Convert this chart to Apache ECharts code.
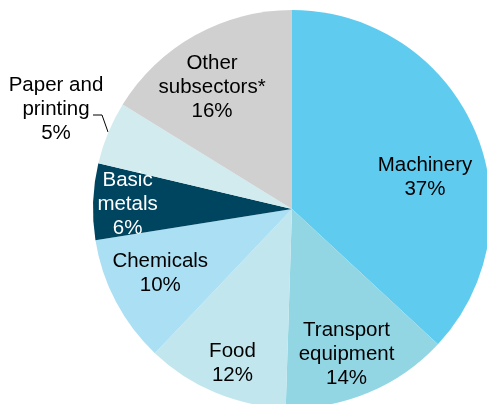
<!DOCTYPE html>
<html><head><meta charset="utf-8">
<script src="https://cdn.jsdelivr.net/npm/echarts@6/dist/echarts.min.js"></script>
<style>html,body{margin:0;padding:0;background:#fff}#c{width:487px;height:404px}</style>
</head><body><div id="c"></div>
<script>
const categories = ['Machinery', 'Transport\nequipment', 'Food', 'Chemicals', 'Basic\nmetals', 'Paper and\nprinting', 'Other\nsubsectors*'];
const shares = [36.9, 13.6, 11.6, 10.4, 6.2, 5.1, 16.2];
const shareLabels = ['37%', '14%', '12%', '10%', '6%', '5%', '16%'];
const colors = ['#5FCBEF', '#92D5E3', '#C1E6EE', '#ABDFF3', '#004560', '#D2EBEE', '#D0D0D0'];
const textColors = ['#000', '#000', '#000', '#000', '#fff', '#000', '#000'];
// label nudges from default inside position
const labelShift = [[39, 9], [15, 51], [-20, 60], [-41, 17], [-62, -1], [0, 0], [-30, -32]];

const chart = echarts.init(document.getElementById('c'));
const data = categories.map((n, i) => ({
  name: n,
  value: shares[i],
  itemStyle: { color: colors[i] },
  label: {
    color: textColors[i],
    position: i === 5 ? 'outside' : 'inside',
    overflow: 'none',
    formatter: n + '\n' + shareLabels[i]
  },
  labelLine: { show: i === 5, lineStyle: { color: '#000', width: 1 } }
}));
chart.setOption({
  animation: false,
  series: [{
    type: 'pie',
    center: [292, 209],
    radius: [0, 199],
    startAngle: 90,
    clockwise: true,
    data: data,
    itemStyle: { borderWidth: 0 },
    label: {
      show: true,
      fontFamily: 'Liberation Sans, Arial, sans-serif',
      fontSize: 20.5,
      lineHeight: 24,
      align: 'center',
      verticalAlign: 'middle',
      overflow: 'none'
    },
    labelLine: { show: false, smooth: false },
    labelLayout: function (p) {
      const i = p.dataIndex;
      if (i === 5) {
        return {
          x: 56, y: 109, align: 'center', verticalAlign: 'middle',
          labelLinePoints: [[108, 132], [102, 115], [93, 115]]
        };
      }
      return { dx: labelShift[i][0], dy: labelShift[i][1] };
    }
  }]
});
</script></body></html>
